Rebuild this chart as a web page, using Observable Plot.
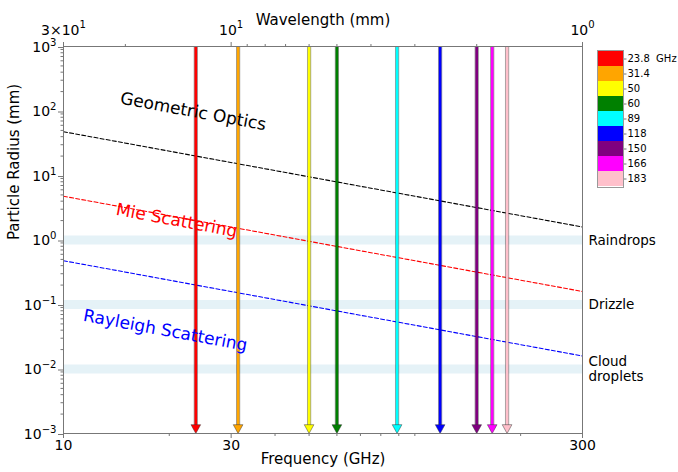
<!DOCTYPE html>
<html><head><meta charset="utf-8">
<script src="https://cdn.jsdelivr.net/npm/d3@7"></script>
<script src="https://cdn.jsdelivr.net/npm/@observablehq/plot@0.6"></script>
<style>
body{margin:0;background:#fff;}
#wrap{position:relative;width:678px;height:472px;}
#legend{position:absolute;left:596px;top:49px;}
</style>
</head><body>
<div id="wrap"><div id="chart"></div><div id="legend"></div></div>
<script>
// ---- data ----
const channelFreqs = [23.8, 31.4, 50, 60, 89, 118, 150, 166, 183];
const channelLabels = ["23.8\u00a0\u00a0GHz", "31.4", "50", "60", "89", "118", "150", "166", "183"];
const channelColors = ["red", "orange", "yellow", "green", "cyan", "blue", "purple", "magenta", "pink"];

const lineFreq = [10, 300];
const geometricRadius = [47.7, 1.59];
const mieRadius = [4.77, 0.159];
const rayleighRadius = [0.477, 0.0159];

const regimeNames = ["Geometric Optics", "Mie Scattering", "Rayleigh Scattering"];
const regimeColors = ["black", "red", "blue"];
const regimeLabelFreq = [23.4, 21.0, 19.5];
const regimeLabelRadius = [98, 2.0, 0.0395];

const particleNames = ["Raindrops", "Drizzle", "Cloud\ndroplets"];
const particleRadius = [1, 0.1, 0.01];

const xMajorTicks = [10, 30, 300];
const xMajorLabels = ["10", "30", "300"];
const xMinorTicks = [20, 40, 50, 60, 70, 80, 90, 100, 200];
const yMajorTicks = [1e-3, 1e-2, 1e-1, 1, 10, 100, 1000];
const yMajorLabels = ["10⁻³", "10⁻²", "10⁻¹", "10⁰", "10¹", "10²", "10³"];
const wavelengthMajor = [30, 10, 1];
const wavelengthLabels = ["3×10¹", "10¹", "10⁰"];
const wavelengthMinor = [20, 9, 8, 7, 6, 5, 4, 3, 2];

// ---- derived ----
const yMinorTicks = [];
for (let e = -3; e < 3; e++) for (let m = 2; m <= 9; m++) yMinorTicks.push(m * Math.pow(10, e));
const toFreq = (lam) => 300 / lam;
const topMajor = wavelengthMajor.map(toFreq);
const topMinor = wavelengthMinor.map(toFreq);
const curves = [geometricRadius, mieRadius, rayleighRadius].map((rs, k) =>
  lineFreq.map((f, i) => ({f, r: rs[i], k})));
const regimeLabels = regimeNames.map((name, i) => ({name, f: regimeLabelFreq[i], r: regimeLabelRadius[i], color: regimeColors[i]}));
const channels = channelFreqs.map((f, i) => ({f, color: channelColors[i]}));

const downTriangle = {
  draw(context, size) {
    const r = Math.sqrt(size / Math.PI);
    const w = r * 1.15, h = r * 2.1;
    context.moveTo(0, 0);
    context.lineTo(-w, -h);
    context.lineTo(w, -h);
    context.closePath();
  }
};

const axisGray = "#777";
const font = "DejaVu Sans";

const chart = Plot.plot({
  width: 678, height: 472,
  marginLeft: 63, marginRight: 96, marginTop: 46, marginBottom: 39,
  style: {fontFamily: font, fontSize: "14px", background: "white", color: "black"},
  x: {type: "log", domain: [10, 300]},
  y: {type: "log", domain: [1e-3, 1e3]},
  color: {type: "identity"},
  marks: [
    Plot.ruleY(particleRadius, {y: d => d, stroke: "#add8e6", strokeOpacity: 0.32, strokeWidth: 9}),
    ...curves.map((c, k) => Plot.line(c, {x: "f", y: "r", stroke: regimeColors[k], strokeWidth: 1.1, strokeDasharray: "4,2.2"})),
    Plot.ruleX(channels, {x: "f", stroke: "black", strokeOpacity: 0.4, strokeWidth: 4.2, insetBottom: 7}),
    Plot.ruleX(channels, {x: "f", stroke: "color", strokeWidth: 2.6, insetBottom: 7}),
    Plot.dot(channels, {x: "f", y: () => 1e-3, symbol: downTriangle, r: 4.2, fill: "color", stroke: "#333", strokeOpacity: 0.6, strokeWidth: 0.8}),
    Plot.text(regimeLabels, {x: "f", y: "r", text: "name", fill: "color", rotate: 10.5, fontSize: 17}),
    Plot.text(particleNames, {x: () => 300, y: (d, i) => particleRadius[i], text: d => d, dx: 6, textAnchor: "start", fontSize: 13.5, lineHeight: 1.1}),
    Plot.frame({stroke: axisGray}),
    Plot.axisX({ticks: xMajorTicks, tickFormat: d => xMajorLabels[xMajorTicks.indexOf(d)], tickSize: 5, tickPadding: 2, fontSize: 14, stroke: axisGray, fill: "black", label: null}),
    Plot.axisX({ticks: xMinorTicks, tickFormat: () => "", tickSize: 3, stroke: axisGray, label: null}),
    Plot.axisX({anchor: "top", ticks: topMajor, tickFormat: d => wavelengthLabels[topMajor.indexOf(d)], tickSize: 5, tickPadding: 7, fontSize: 14, stroke: axisGray, fill: "black", label: null}),
    Plot.axisX({anchor: "top", ticks: topMinor, tickFormat: () => "", tickSize: 3, stroke: axisGray, label: null}),
    Plot.axisY({ticks: yMajorTicks, tickFormat: d => yMajorLabels[yMajorTicks.indexOf(d)], tickSize: 5, tickPadding: 2, fontSize: 14, stroke: axisGray, fill: "black", label: null, dy: 1}),
    Plot.axisY({ticks: yMinorTicks, tickFormat: () => "", tickSize: 2.5, stroke: axisGray, label: null}),
    Plot.text(["Frequency (GHz)"], {frameAnchor: "bottom", dy: 30, fontSize: 15, fill: "black"}),
    Plot.text(["Wavelength (mm)"], {frameAnchor: "top", dy: -32, fontSize: 15, fill: "black"}),
    Plot.text(["Particle Radius (mm)"], {frameAnchor: "left", dx: -49, rotate: -90, fontSize: 15, fill: "black"})
  ]
});
document.getElementById("chart").appendChild(chart);

// render Unicode superscripts as raised, smaller digits (like mathtext)
const supMap = {"⁻": "−", "⁰": "0", "¹": "1", "²": "2", "³": "3", "⁴": "4", "⁵": "5", "⁶": "6", "⁷": "7", "⁸": "8", "⁹": "9"};
const NS = "http://www.w3.org/2000/svg";
chart.querySelectorAll("text").forEach(t => {
  const target = t.querySelector("tspan") || t;
  const s = target.textContent;
  const m = s.match(/^(.*?)([⁻⁰¹²³⁴⁵⁶⁷⁸⁹]+)$/);
  if (!m) return;
  target.textContent = m[1];
  const sup = document.createElementNS(NS, "tspan");
  sup.setAttribute("font-size", "0.72em");
  sup.setAttribute("dy", "-0.6em");
  sup.textContent = [...m[2]].map(c => supMap[c]).join("");
  target.appendChild(sup);
});

const legend = Plot.plot({
  width: 82, height: 139,
  marginTop: 1, marginBottom: 1, marginLeft: 1, marginRight: 55,
  style: {fontFamily: font, background: "transparent", color: "black"},
  y: {type: "band", domain: channelLabels, padding: 0},
  color: {type: "identity"},
  marks: [
    Plot.cell(channelLabels, {y: d => d, fill: (d, i) => channelColors[i]}),
    Plot.frame({stroke: "#999"}),
    Plot.axisY({anchor: "right", tickSize: 2.5, tickPadding: 1.5, fontSize: 10, stroke: axisGray, fill: "black", label: null})
  ]
});
document.getElementById("legend").appendChild(legend);
</script>
</body></html>
